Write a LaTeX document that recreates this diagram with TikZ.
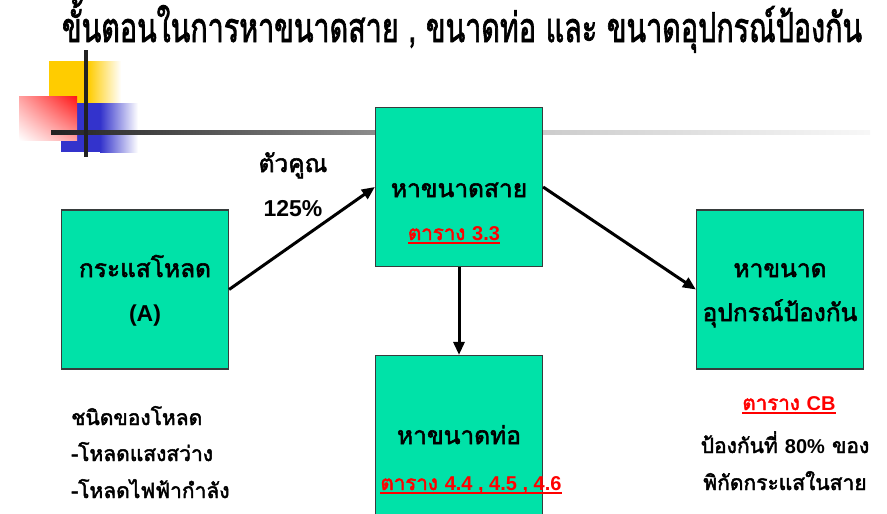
\documentclass[tikz,border=0pt]{standalone}
\usepackage{fontspec}
\setmainfont{Liberation Sans}
\newfontfamily\thaifont[Script=Thai, FakeBold=2.2]{Loma}
\newfontfamily\latfont{Liberation Sans}
\usetikzlibrary{arrows.meta,shadings}
\definecolor{boxgreen}{RGB}{0,226,168}
\definecolor{boxborder}{RGB}{55,60,60}
\definecolor{decoyellow}{RGB}{255,204,0}
\definecolor{decoblue}{RGB}{51,51,204}
\definecolor{decored}{RGB}{255,20,20}
\definecolor{linedark}{RGB}{34,34,34}
\newcommand{\tabref}[1]{\setbox0\hbox{#1}\rlap{\rule[-4pt]{\wd0}{1.8pt}}\box0}
\newcommand{\lt}[1]{{\latfont\bfseries\fontsize{23}{26}\selectfont #1}}
\newcommand{\ltr}[1]{{\latfont\bfseries\fontsize{20}{24}\selectfont #1}}
\begin{document}
\begin{tikzpicture}[x=1pt,y=-1pt,
  box/.style={draw=boxborder, line width=1.2pt, fill=boxgreen, minimum width=167pt, minimum height=159pt, inner sep=0pt},
  lbl/.style={font=\thaifont\fontsize{24.5}{28}\selectfont, inner sep=0pt, anchor=base},
  reflbl/.style={font=\thaifont\fontsize{20.5}{24}\selectfont, text=red, inner sep=0pt, anchor=base},
  note/.style={font=\thaifont\fontsize{21}{25}\selectfont, inner sep=0pt, anchor=base west},
  arr/.style={line width=3pt, -{Triangle[length=13pt,width=11pt]}}]
\useasboundingbox (0,0) rectangle (887,514);
\clip (0,0) rectangle (887,514);
% decoration
\fill[decoyellow] (49,61) rectangle (88,103);
\shade[left color=decoyellow, right color=white] (88,61) rectangle (121,103);
\fill[decoblue] (61,103) rectangle (100,152);
\shade[left color=decoblue, right color=white] (100,103) rectangle (138,152);
\shade[upper right=decored, lower left=white, upper left=decored!40, lower right=decored!40] (19,96) rectangle (77,140);
\shade[left color=linedark, right color=black!45] (51,130) rectangle (375,134);
\shade[left color=black!20, right color=black!3] (543,130) rectangle (870,134);
\fill[linedark] (84,50) rectangle (88,157);
% title
\node[inner sep=0pt, anchor=base] (title) at (462,42)
  {\resizebox{800pt}{\height}{\thaifont\fontsize{41}{46}\selectfont ขั้นตอนในการหาขนาดสาย , ขนาดท่อ และ ขนาดอุปกรณ์ป้องกัน}};
% boxes
\node[box] (A) at (145,289.5) {};
\node[box] (B) at (459,187) {};
\node[box] (C) at (459,435) {};
\node[box] (D) at (780,289.5) {};
% box texts
\node[lbl] (a1) at (145,277) {กระแสโหลด};
\node[lbl] (a2) at (145,321) {\lt{(A)}};
\node[lbl] (b1) at (459,197) {หาขนาดสาย};
\node[reflbl] (b2) at (454,240) {\tabref{ตาราง \ltr{3.3}}};
\node[lbl] (c1) at (459,444) {หาขนาดท่อ};
\node[reflbl] (c2) at (471,490) {\tabref{ตาราง \ltr{4.4 , 4.5 , 4.6}}};
\node[lbl] (d1) at (780,277) {หาขนาด};
\node[lbl] (d2) at (780,321) {อุปกรณ์ป้องกัน};
% outside texts
\node[lbl] (k1) at (293,172) {ตัวคูณ};
\node[lbl] (k2) at (293,216) {\lt{125\%}};
\node[reflbl] (cb) at (789,410) {\tabref{ตาราง \ltr{CB}}};
\node[note, anchor=base] (p1) at (785,453) {ป้องกันที่ \ltr{80\%} ของ};
\node[note, anchor=base] (p2) at (785,490) {พิกัดกระแสในสาย};
\node[note] (n1) at (71,425) {ชนิดของโหลด};
\node[note] (n2) at (71,461) {-โหลดแสงสว่าง};
\node[note] (n3) at (71,498) {-โหลดไฟฟ้ากำลัง};
% connectors
\draw[arr] (A.east) -- (B.west);
\draw[arr] (B.east) -- (D.west);
\draw[arr] (B.south) -- (C.north);
\end{tikzpicture}
\end{document}
